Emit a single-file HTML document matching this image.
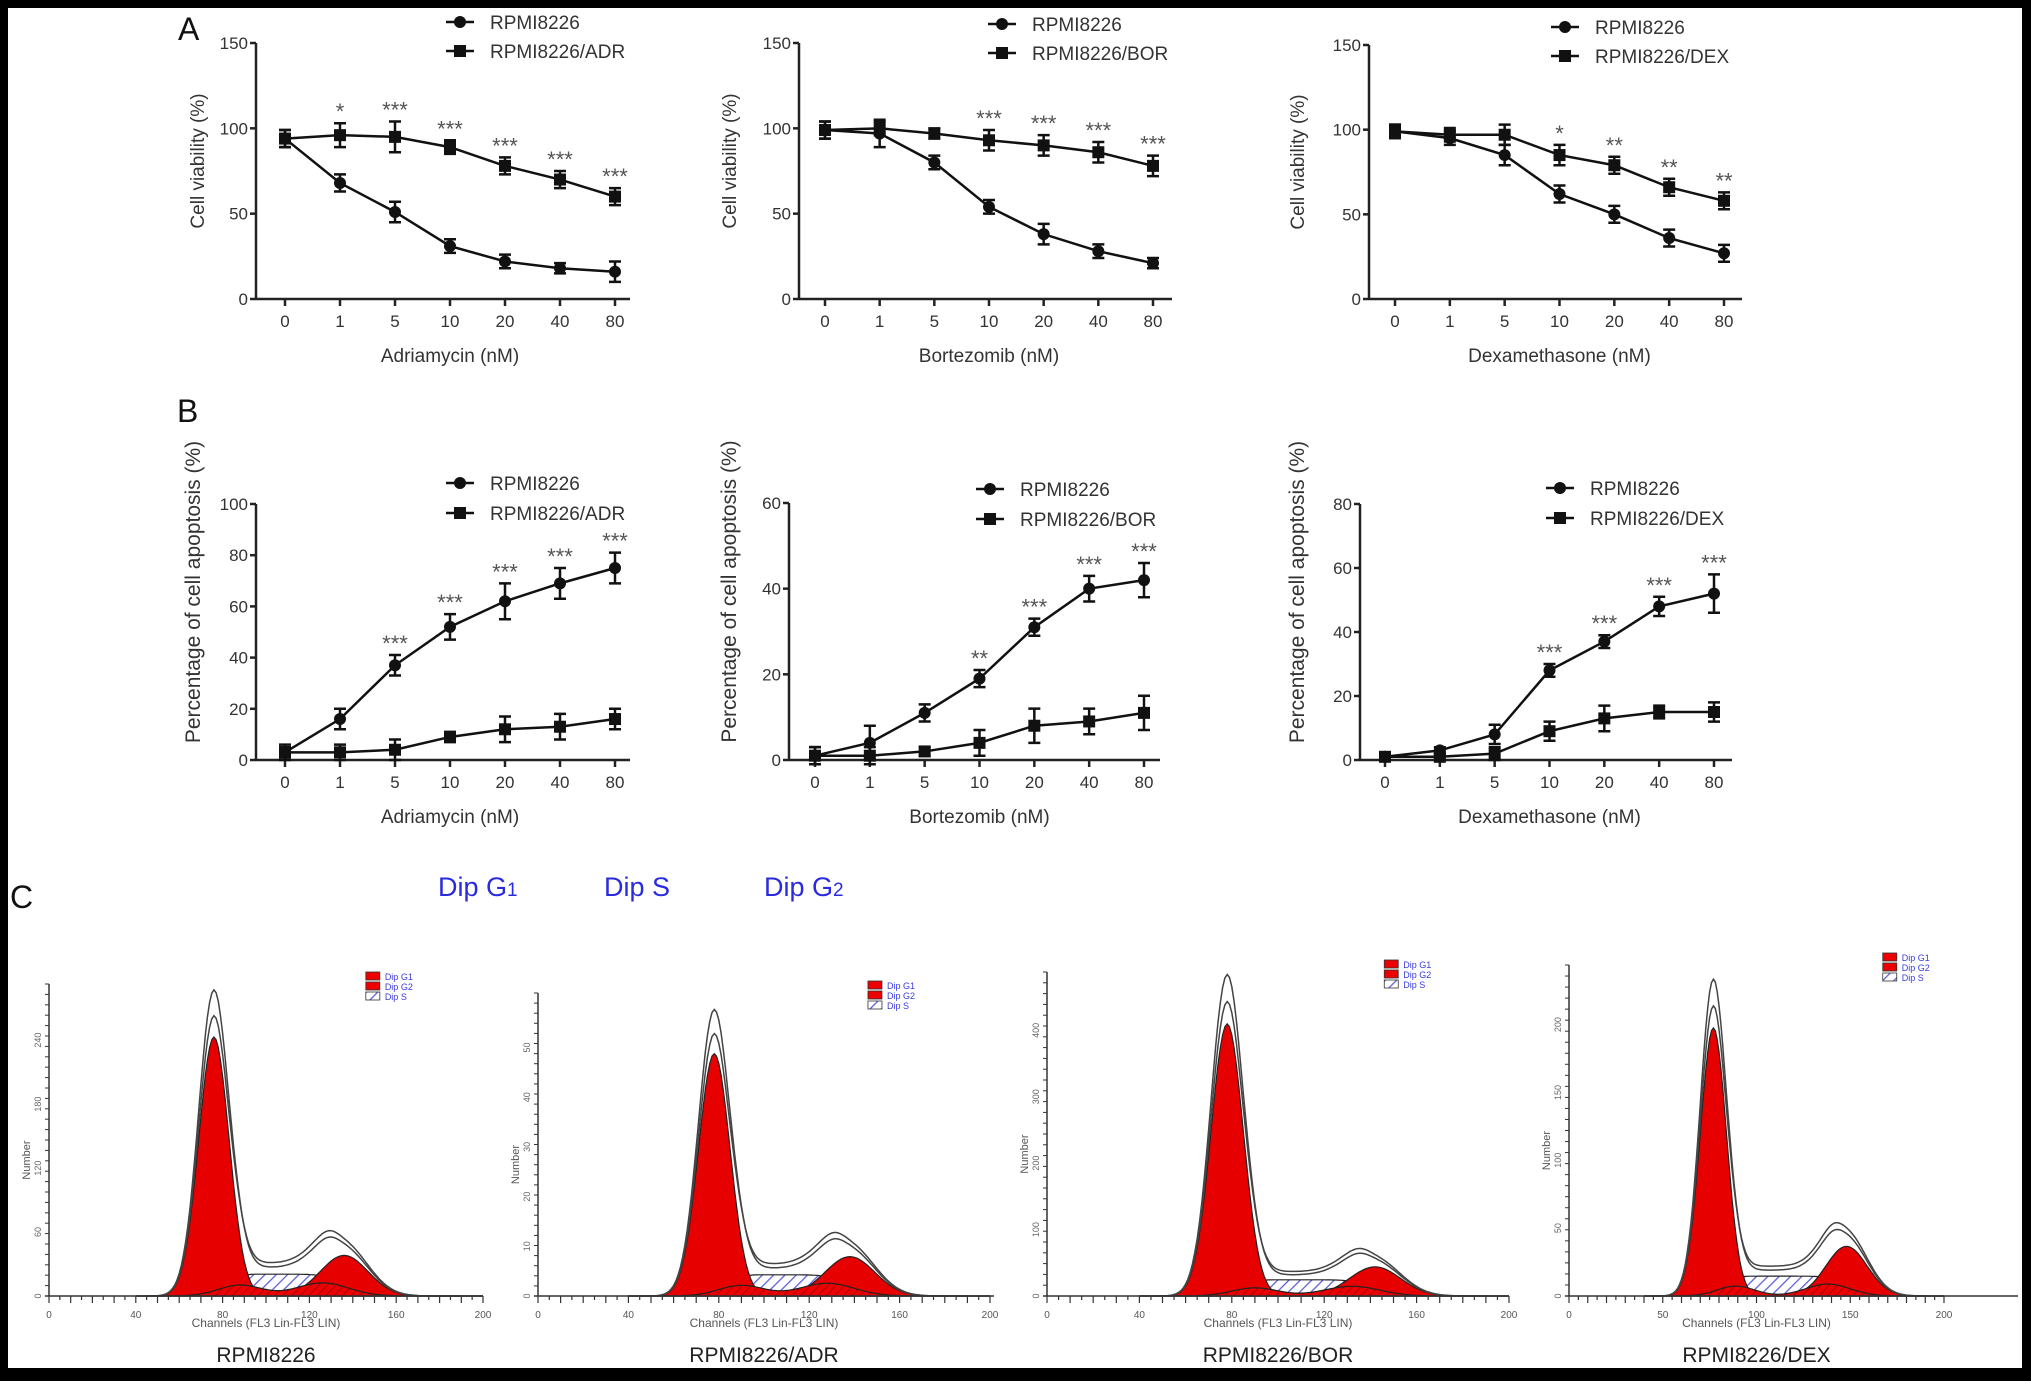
<!DOCTYPE html>
<html><head><meta charset="utf-8"><style>
html,body{margin:0;padding:0;background:#000;}
svg{display:block;font-family:"Liberation Sans",Arial,sans-serif;}
</style></head><body>
<svg id="fig" width="2031" height="1381" viewBox="0 0 2031 1381" xmlns="http://www.w3.org/2000/svg">
<rect x="0" y="0" width="2031" height="1381" fill="#000"/>
<rect x="8" y="8" width="2014" height="1360" fill="#fff"/>
<text x="178" y="40" font-size="32" fill="#111">A</text>
<text x="177" y="422" font-size="32" fill="#111">B</text>
<text x="10" y="908" font-size="32" fill="#111">C</text>
<text x="438" y="896" font-size="27" fill="#2a2adf">Dip G<tspan font-size="19">1</tspan></text>
<text x="604" y="896" font-size="27" fill="#2a2adf">Dip S</text>
<text x="764" y="896" font-size="27" fill="#2a2adf">Dip G<tspan font-size="19">2</tspan></text>
<defs>
<pattern id="hatch" width="8" height="8" patternUnits="userSpaceOnUse" patternTransform="rotate(45)"><rect width="8" height="8" fill="#fff"/><line x1="0" y1="0" x2="0" y2="8" stroke="#5a5ad8" stroke-width="2.5"/></pattern>
<pattern id="rhatch" width="6" height="6" patternUnits="userSpaceOnUse" patternTransform="rotate(45)"><rect width="6" height="6" fill="#e00"/><line x1="0" y1="0" x2="0" y2="6" stroke="#700" stroke-width="1.2"/></pattern>
</defs>
</svg>
<script>
const doses = ["0","1","5","10","20","40","80"];
const a1Sens = [94,68,51,31,22,18,16];
const a1Res = [94,96,95,89,78,70,60];
const a2Sens = [99,97,80,54,38,28,21];
const a2Res = [99,100,97,93,90,86,78];
const a3Sens = [99,95,85,62,50,36,27];
const a3Res = [99,97,97,85,79,66,58];
const a1Err = [5,5,6,4,4,3,6];
const a1ResErr = [5,7,9,4,5,5,5];
const a2Err = [5,8,4,4,6,4,3];
const a2ResErr = [5,4,3,6,6,6,6];
const a3Err = [4,4,6,5,5,5,5];
const a3ResErr = [4,4,6,6,5,5,5];
const a1Stars = ["","*","***","***","***","***","***"];
const a2Stars = ["","","","***","***","***","***"];
const a3Stars = ["","","","*","**","**","**"];
const b1Sens = [3,16,37,52,62,69,75];
const b1Res = [3,3,4,9,12,13,16];
const b2Sens = [1,4,11,19,31,40,42];
const b2Res = [1,1,2,4,8,9,11];
const b3Sens = [1,3,8,28,37,48,52];
const b3Res = [1,1,2,9,13,15,15];
const b1Err = [3,4,4,5,7,6,6];
const b1ResErr = [2,3,4,2,5,5,4];
const b2Err = [2,4,2,2,2,3,4];
const b2ResErr = [2,2,1,3,4,3,4];
const b3Err = [1,1,3,2,2,3,6];
const b3ResErr = [1,1,2,3,4,2,3];
const b1Stars = ["","","***","***","***","***","***"];
const b2Stars = ["","","","**","***","***","***"];
const b3Stars = ["","","","***","***","***","***"];
const cNames = ["RPMI8226","RPMI8226/ADR","RPMI8226/BOR","RPMI8226/DEX"];
const cG1Mean = [76,78,78,77];
const cG1Height = [0.83,0.80,0.84,0.81];
const cG2Mean = [136,138,142,148];
const cG2Height = [0.13,0.13,0.09,0.15];
const cSLevel = [0.07,0.07,0.05,0.06];
const cXTicks = [["0","40","80","120","160","200"],["0","40","80","120","160","200"],["0","40","80","120","160","200"],["0","50","100","150","200"]];
const cYTicks = [["0","60","120","180","240"],["0","10","20","30","40","50"],["0","100","200","300","400"],["0","50","100","150","200"]];

const svg = document.getElementById('fig');
const NS = "http://www.w3.org/2000/svg";
function mk(tag, attrs, parent){const e=document.createElementNS(NS,tag);for(const k in attrs)e.setAttribute(k,attrs[k]);(parent||svg).appendChild(e);return e;}
function txt(s,attrs,parent){const e=mk('text',attrs,parent);e.textContent=s;return e;}

function linePanel(cfg){
  const g=mk('g',{});
  
  
  const {ax,x0,x1,yTop,yBot,ymax,step,axEnd}=cfg;
  const xs=i=>x0+(x1-x0)*i/(doses.length-1);
  const ys=v=>yBot-(yBot-yTop)*v/ymax;
  const ya=mk('line',{x1:ax,y1:yTop,x2:ax,y2:yBot,stroke:'#222','stroke-width':2.5},g);
  
  
  const xa=mk('line',{x1:ax,y1:yBot,x2:axEnd,y2:yBot,stroke:'#222','stroke-width':2.5},g);
  
  
  for(let v=0;v<=ymax;v+=step){
    mk('line',{x1:ax-6,y1:ys(v),x2:ax,y2:ys(v),stroke:'#222','stroke-width':2.5},g);
    const t=txt(String(v),{x:ax-8,y:ys(v)+6,'font-size':17,'text-anchor':'end',fill:'#333'},g);
    
    
  }
  doses.forEach((d,i)=>{
    mk('line',{x1:xs(i),y1:yBot,x2:xs(i),y2:yBot+7,stroke:'#222','stroke-width':2.5},g);
    const t=txt(d,{x:xs(i),y:yBot+28,'font-size':17,'text-anchor':'middle',fill:'#333'},g);
    
    
  });
  const xt=txt(cfg.xlabel,{x:(x0+x1)/2,y:yBot+63,'font-size':19,'text-anchor':'middle',fill:'#333'},g);
  
  
  const yt=txt(cfg.ylabel,{x:0,y:0,'font-size':cfg.ylfs||19,'text-anchor':'middle',fill:'#333',transform:`translate(${cfg.ylx},${(yTop+yBot)/2+cfg.yloff}) rotate(-90)`},g);
  
  
  const series=[[cfg.sens,cfg.sErr,'circle'],[cfg.res,cfg.rErr,'square']];
  series.forEach(([vals,err,shape],si)=>{
    const pts=vals.map((v,i)=>xs(i)+','+ys(v)).join(' ');
    const pl=mk('polyline',{points:pts,fill:'none',stroke:'#111','stroke-width':2.5},g);
    
    
    vals.forEach((v,i)=>{
      const x=xs(i),y=ys(v),e=ys(v-err[i])-y;
      mk('path',{d:`M${x},${y-e}V${y+e}M${x-6},${y-e}H${x+6}M${x-6},${y+e}H${x+6}`,stroke:'#111','stroke-width':2.5,fill:'none'},g);
      let m;
      if(shape==='circle') m=mk('circle',{cx:x,cy:y,r:6,fill:'#111'},g);
      else m=mk('rect',{x:x-6,y:y-6,width:12,height:12,fill:'#111'},g);
      
      
    });
  });
  cfg.stars.forEach((s,i)=>{
    if(!s)return;
    const top=Math.max(cfg.sens[i]+cfg.sErr[i],cfg.res[i]+cfg.rErr[i]);
    const t=txt(s,{x:xs(i),y:ys(top)-4,'font-size':22,'text-anchor':'middle',fill:'#555'},g);
    
    
  });
  [[cfg.leg1,'circle'],[cfg.leg2,'square']].forEach(([lab,shape],k)=>{
    const ly=cfg.ly+k*cfg.lgap, lx=cfg.lx;
    mk('line',{x1:lx-14,y1:ly,x2:lx+14,y2:ly,stroke:'#111','stroke-width':2.5},g);
    if(shape==='circle') mk('circle',{cx:lx,cy:ly,r:6,fill:'#111'},g); else mk('rect',{x:lx-6,y:ly-6,width:12,height:12,fill:'#111'},g);
    const t=txt(lab,{x:lx+30,y:ly+7,'font-size':19,fill:'#333'},g);
    
    
  });
}
const vy='Cell viability (%)', ay='Percentage of cell apoptosis (%)';
linePanel({name:'viability-adriamycin-chart',ax:256,x0:285,x1:615,axEnd:630,yTop:43,yBot:299,ymax:150,step:50,sens:a1Sens,res:a1Res,sErr:a1Err,rErr:a1ResErr,stars:a1Stars,xlabel:'Adriamycin (nM)',ylabel:vy,ylx:204,yloff:-10,leg1:'RPMI8226',leg2:'RPMI8226/ADR',lx:460,ly:22,lgap:29});
linePanel({name:'viability-bortezomib-chart',ax:799,x0:825,x1:1153,axEnd:1172,yTop:43,yBot:299,ymax:150,step:50,sens:a2Sens,res:a2Res,sErr:a2Err,rErr:a2ResErr,stars:a2Stars,xlabel:'Bortezomib (nM)',ylabel:vy,ylx:736,yloff:-10,leg1:'RPMI8226',leg2:'RPMI8226/BOR',lx:1002,ly:24,lgap:29});
linePanel({name:'viability-dexamethasone-chart',ax:1369,x0:1395,x1:1724,axEnd:1742,yTop:45,yBot:299,ymax:150,step:50,sens:a3Sens,res:a3Res,sErr:a3Err,rErr:a3ResErr,stars:a3Stars,xlabel:'Dexamethasone (nM)',ylabel:vy,ylx:1304,yloff:-10,leg1:'RPMI8226',leg2:'RPMI8226/DEX',lx:1565,ly:27,lgap:29});
linePanel({name:'apoptosis-adriamycin-chart',ax:256,x0:285,x1:615,axEnd:630,yTop:504,yBot:760,ymax:100,step:20,sens:b1Sens,res:b1Res,sErr:b1Err,rErr:b1ResErr,stars:b1Stars,xlabel:'Adriamycin (nM)',ylabel:ay,ylx:200,yloff:-40,ylfs:21,leg1:'RPMI8226',leg2:'RPMI8226/ADR',lx:460,ly:483,lgap:30});
linePanel({name:'apoptosis-bortezomib-chart',ax:789,x0:815,x1:1144,axEnd:1160,yTop:503,yBot:760,ymax:60,step:20,sens:b2Sens,res:b2Res,sErr:b2Err,rErr:b2ResErr,stars:b2Stars,xlabel:'Bortezomib (nM)',ylabel:ay,ylx:736,yloff:-40,ylfs:21,leg1:'RPMI8226',leg2:'RPMI8226/BOR',lx:990,ly:489,lgap:30});
linePanel({name:'apoptosis-dexamethasone-chart',ax:1360,x0:1385,x1:1714,axEnd:1732,yTop:504,yBot:760,ymax:80,step:20,sens:b3Sens,res:b3Res,sErr:b3Err,rErr:b3ResErr,stars:b3Stars,xlabel:'Dexamethasone (nM)',ylabel:ay,ylx:1304,yloff:-40,ylfs:21,leg1:'RPMI8226',leg2:'RPMI8226/DEX',lx:1560,ly:488,lgap:30});

const hPanels=[{ax:49,x200:483,end:483,top:984},{ax:538,x200:990,end:994,top:993},{ax:1047,x200:1509,end:1509,top:972},{ax:1569,x200:1944,end:2018,top:965}];
const base=1296;
cNames.forEach((nm,p)=>{
  const P=hPanels[p];
  const g=mk('g',{});
  
  
  const H=base-P.top;
  const xs=c=>P.ax+(P.x200-P.ax)*c/200;
  const ys=f=>base-H*f;
  const g1=c=>cG1Height[p]*Math.exp(-0.5*Math.pow((c-cG1Mean[p])/7,2));
  const g2=c=>cG2Height[p]*Math.exp(-0.5*Math.pow((c-cG2Mean[p])/11,2));
  const sIn=c=>cSLevel[p]/(1+Math.exp(-(c-cG1Mean[p]-8)/2))/(1+Math.exp((c-cG2Mean[p]+4)/3));
  const sm=c=>cSLevel[p]*0.5*Math.exp(-0.5*Math.pow((c-(cG1Mean[p]+12))/10,2))+cSLevel[p]*0.6*Math.exp(-0.5*Math.pow((c-(cG2Mean[p]-10))/12,2));
  function area(fn,fill,name){
    let d=`M${xs(40)},${base}`;
    for(let c=40;c<=200;c+=1)d+=`L${xs(c).toFixed(1)},${ys(fn(c)).toFixed(1)}`;
    d+=`L${xs(200)},${base}Z`;
    const e=mk('path',{d,fill,stroke:'#222','stroke-width':1.2},g);
    
    
  }
  area(sIn,'url(#hatch)','s-phase-area');
  area(g1,'#e60000','g1-peak');
  area(g2,'#e60000','g2-peak');
  area(sm,'url(#rhatch)','s-phase-overlap');
  [[1.18,1.15,1.3],[1.08,1.25,1.5]].forEach((k,j)=>{
    let d='';
    for(let c=45;c<=190;c+=1){const v=g1(c)*k[0]+g2(c)*k[1]+sIn(c)*k[2];d+=(d?'L':'M')+xs(c).toFixed(1)+','+ys(v).toFixed(1);}
    const env=mk('path',{d,fill:'none',stroke:'#444','stroke-width':1.5},g);
    
    
  });
  mk('line',{x1:P.ax,y1:P.top,x2:P.ax,y2:base,stroke:'#333','stroke-width':1.5},g);
  mk('line',{x1:P.ax-4,y1:base,x2:P.end,y2:base,stroke:'#333','stroke-width':1.5},g);
  for(let k=0;k<=40;k++){const c=k*5;if(c>200)break;mk('line',{x1:xs(c),y1:base,x2:xs(c),y2:base+(k%2?4:7),stroke:'#333','stroke-width':1.2},g);}
  for(let k=0;k<=30;k++){const y=base-k*(H/30);mk('line',{x1:P.ax-4,y1:y,x2:P.ax,y2:y,stroke:'#333','stroke-width':1},g);}
  cYTicks[p].forEach((t,i)=>{
    const y=base-i*H*0.82/(cYTicks[p].length-1);
    const e=txt(t,{x:0,y:0,'font-size':9,'text-anchor':'middle',fill:'#666',transform:`translate(${P.ax-8},${y}) rotate(-90)`},g);
    
    
  });
  cXTicks[p].forEach((t,i)=>{
    const e=txt(t,{x:xs(200*i/(cXTicks[p].length-1)),y:base+22,'font-size':10,'text-anchor':'middle',fill:'#555'},g);
    
    
  });
  const xl=txt('Channels (FL3 Lin-FL3 LIN)',{x:xs(100),y:base+31,'font-size':12,'text-anchor':'middle',fill:'#555'},g);
  
  
  const yl=txt('Number',{x:0,y:0,'font-size':11,'text-anchor':'middle',fill:'#555',transform:`translate(${P.ax-19},${(P.top+base)/2+20}) rotate(-90)`},g);
  
  
  const lx=P.ax+0.73*(P.x200-P.ax)+(p==3?40:0), ly=P.top-12;
  [['Dip G1','#e00'],['Dip G2','#e00'],['Dip S','url(#hatch)']].forEach(([l,f],k)=>{
    mk('rect',{x:lx,y:ly+k*10,width:14,height:8,fill:f,stroke:'#333','stroke-width':0.8},g);
    const e=txt(l,{x:lx+19,y:ly+k*10+8,'font-size':9,fill:'#3a3ae0'},g);
    
    
  });
  const nt=txt(nm,{x:xs(100),y:1362,'font-size':21,'text-anchor':'middle',fill:'#222'},g);
  
  
});
</script>
</body></html>
